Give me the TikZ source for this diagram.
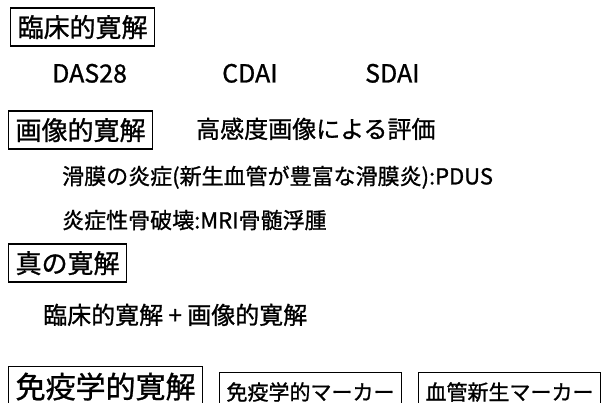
\documentclass[tikz,border=0pt]{standalone}
\usepackage{fontspec}
\setmainfont{Noto Sans CJK JP}[FakeBold=1]
\usetikzlibrary{positioning}
\begin{document}
\begin{tikzpicture}[x=1pt,y=-1pt,
heading/.style={draw, line width=1.2pt, inner xsep=7pt, inner ysep=6pt, text height=23pt, text depth=3pt, anchor=west, font=\fontsize{26}{28}\selectfont},
index/.style={inner sep=0pt, text height=22pt, text depth=3pt, anchor=west, font=\fontsize{25}{28}\selectfont},
lead/.style={inner sep=0pt, text height=21pt, text depth=3pt, anchor=west, font=\fontsize{24}{26}\selectfont},
item/.style={inner sep=0pt, text height=19.4pt, text depth=2.6pt, anchor=west, font=\fontsize{22}{24}\selectfont},
marker/.style={draw, line width=1pt, inner xsep=7pt, inner ysep=9pt, text height=18.5pt, text depth=2.5pt, anchor=north west, font=\fontsize{21}{23}\selectfont}]
\useasboundingbox (0,0) rectangle (604,403);
% clinical remission
\node[heading] (clinical) at (10,27) {臨床的寛解};
\node[index] (das) at (52,73) {DAS28};
\node[index] (cdai) at (222,73) {CDAI};
\node[index] (sdai) at (365,73) {SDAI};
% imaging remission
\node[heading] (imaging) at (8,130) {画像的寛解};
\node[lead] (hires) at (196,129) {高感度画像による評価};
\node[item] (pdus) at (62,176) {滑膜の炎症(新生血管が豊富な滑膜炎):PDUS};
\node[item] (mri) at (62,220) {炎症性骨破壊:MRI骨髄浮腫};
% true remission
\node[heading] (true) at (8,263) {真の寛解};
\node[lead] (both) at (43,315) {臨床的寛解 + 画像的寛解};
% immunological remission
\node[heading, anchor=north west, font=\fontsize{30}{32}\selectfont, text height=26.4pt, text depth=3.6pt, inner ysep=5pt] (immune) at (8,366) {免疫学的寛解};
\node[marker] (immark) at (219,372) {免疫学的マーカー};
\node[marker, right=16pt of immark.north east, anchor=north west] (vasc) {血管新生マーカー};
\end{tikzpicture}
\end{document}
